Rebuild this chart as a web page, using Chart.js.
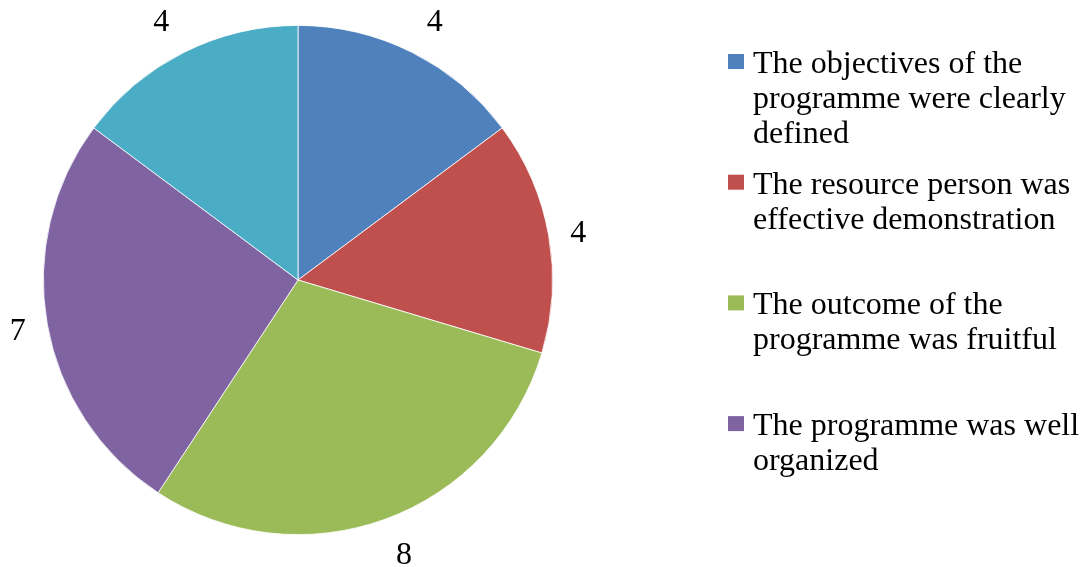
<!DOCTYPE html>
<html>
<head>
<meta charset="utf-8">
<script src="https://cdn.jsdelivr.net/npm/chart.js@4.4.1/dist/chart.umd.min.js"></script>
<style>
html,body{margin:0;padding:0;background:#ffffff;overflow:hidden;}
#wrap{width:1082px;height:567px;position:relative;}
</style>
</head>
<body>
<div id="wrap"><canvas id="c" width="1082" height="567"></canvas></div>
<script>
// ---- data ----
const categories = [
  "The objectives of the programme were clearly defined",
  "The resource person was effective demonstration",
  "The outcome of the programme was fruitful",
  "The programme was well organized",
  "Other"
];
const legendLines = [
  ["The objectives of the", "programme were clearly", "defined"],
  ["The resource person was", "effective demonstration"],
  ["The outcome of the", "programme was fruitful"],
  ["The programme was well", "organized"]
];
const values = [4, 4, 8, 7, 4];
const colors = ["#4F81BD", "#C0504D", "#9BBB59", "#8064A2", "#4BACC6"];

const FONT = '"Liberation Serif", "Times New Roman", serif';

const valueLabels = {
  id: 'valueLabels',
  afterDatasetsDraw(chart) {
    const ctx = chart.ctx;
    const meta = chart.getDatasetMeta(0);
    ctx.save();
    ctx.font = '32px ' + FONT;
    ctx.fillStyle = '#000';
    ctx.textAlign = 'center';
    ctx.textBaseline = 'alphabetic';
    meta.data.forEach((arc, i) => {
      const p = arc.getProps(['x','y','startAngle','endAngle','outerRadius'], true);
      const mid = (p.startAngle + p.endAngle) / 2;
      const c = Math.cos(mid), s = Math.sin(mid);
      const r = p.outerRadius + 27 + 10 * Math.abs(s);
      const lx = p.x + c * r + 7 * Math.sign(c) * Math.abs(s);
      const ly = p.y + s * r;
      ctx.fillText(String(chart.data.datasets[0].data[i]), lx, ly + 11);
    });
    ctx.restore();
  }
};

const sideLegend = {
  id: 'sideLegend',
  afterDraw(chart) {
    const ctx = chart.ctx;
    ctx.save();
    ctx.font = '32px ' + FONT;
    ctx.textAlign = 'left';
    ctx.textBaseline = 'alphabetic';
    const top = 73, step = 120.7, lineH = 35;
    legendLines.forEach((lines, i) => {
      const y0 = top + i * step;
      ctx.fillStyle = colors[i];
      ctx.fillRect(728, y0 - 19, 16, 15);
      ctx.fillStyle = '#000';
      lines.forEach((t, j) => ctx.fillText(t, 753, y0 + j * lineH));
    });
    ctx.restore();
  }
};

new Chart(document.getElementById('c'), {
  type: 'pie',
  data: {
    labels: categories,
    datasets: [{
      data: values,
      backgroundColor: colors,
      borderColor: '#ffffff',
      borderWidth: 0.8
    }]
  },
  options: {
    responsive: false,
    devicePixelRatio: 1,
    animation: false,
    layout: { padding: { left: 43, right: 529, top: 25, bottom: 32 } },
    plugins: {
      legend: { display: false },
      tooltip: { enabled: false }
    }
  },
  plugins: [valueLabels, sideLegend]
});
</script>
</body>
</html>
